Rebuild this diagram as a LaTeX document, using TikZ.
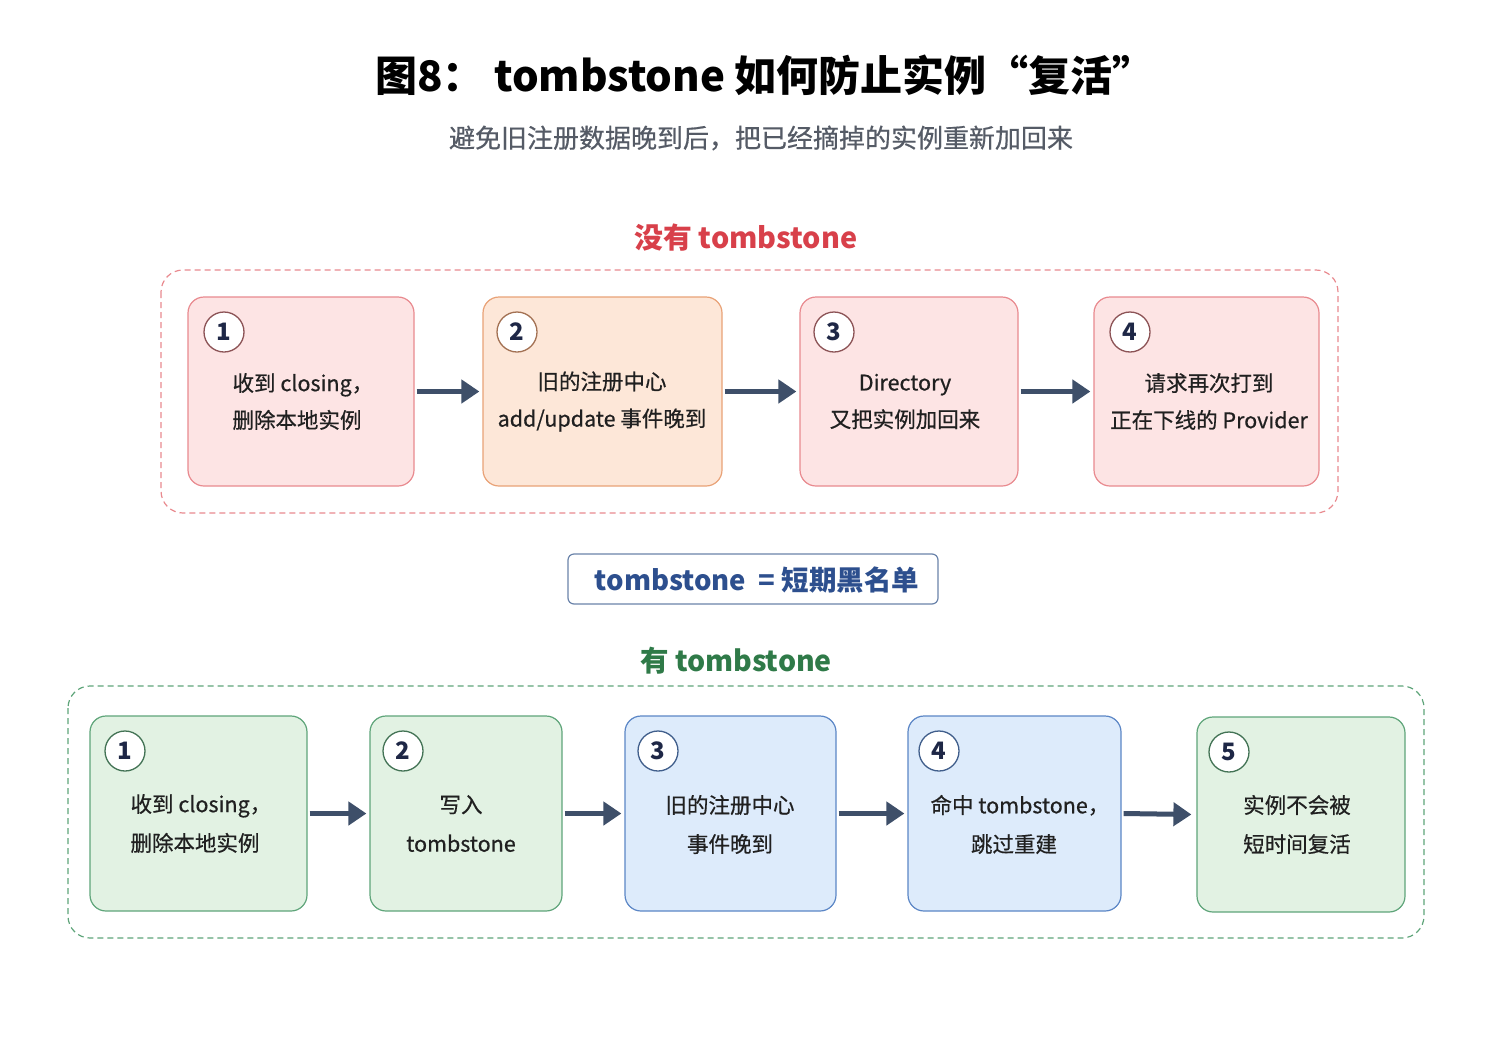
\documentclass[tikz,border=0pt]{standalone}
\usepackage{fontspec}
\setmainfont{Noto Sans CJK SC}
\newfontfamily\medfont[FakeBold=0.6]{Noto Sans CJK SC}
\usetikzlibrary{arrows.meta}
\newcommand{\hcomma}{\makebox[0.45em][l]{，}}
\definecolor{redline}{HTML}{E98A8F}
\definecolor{redfill}{HTML}{FDE4E4}
\definecolor{orline}{HTML}{E9A277}
\definecolor{orfill}{HTML}{FDE7D8}
\definecolor{grline}{HTML}{5FA57A}
\definecolor{grfill}{HTML}{E2F2E3}
\definecolor{blline}{HTML}{5B86C6}
\definecolor{blfill}{HTML}{DDEBFB}
\definecolor{arrowc}{HTML}{3E4F69}
\definecolor{navy}{HTML}{1E2746}
\definecolor{redhead}{HTML}{D8404A}
\definecolor{grhead}{HTML}{2F7A48}
\definecolor{bluetxt}{HTML}{2D4F8E}
\definecolor{txt}{HTML}{202020}
\definecolor{subtxt}{HTML}{555B66}
\tikzset{
  box/.style={draw=#1line, fill=#1fill, line width=1.2pt, rounded corners=16pt, inner sep=0pt},
  numc/.style={circle, draw=#1, fill=white, line width=1.3pt, minimum size=40pt, inner sep=0pt, font=\fontsize{24}{24}\selectfont\bfseries, text=navy},
  btxt/.style={align=center, font=\medfont\fontsize{21.5}{37}\selectfont, text=txt},
  btxtb/.style={align=center, font=\medfont\fontsize{21.5}{39}\selectfont, text=txt},
  flow/.style={-{Triangle[length=18pt,width=23pt]}, line width=5pt, draw=arrowc},
  frame/.style={draw=#1, line width=1.2pt, dash pattern=on 6pt off 4pt, rounded corners=22pt},
}
\begin{document}
\begin{tikzpicture}[x=1pt,y=-1pt]
\useasboundingbox (0,0) rectangle (1491,1055);
\fill[white] (0,0) rectangle (1491,1055);
% titles
\node[font=\fontsize{42}{42}\selectfont\bfseries, text=black] (title) at (765,75) {图8： tombstone 如何防止实例“复活”};
\node[font=\medfont\fontsize{26}{26}\selectfont, text=subtxt] (sub) at (761,138) {避免旧注册数据晚到后，把已经摘掉的实例重新加回来};
% top section
\node[font=\fontsize{28.8}{28.8}\selectfont\bfseries, text=redhead] (h1) at (746,238) {没有 tombstone};
\draw[frame=redline] (161,270) rectangle (1338,513);
\node[box=red, minimum width=226pt, minimum height=189pt] (a1) at (301,391.5) {};
\node[box=or, minimum width=239pt, minimum height=189pt] (a2) at (602.5,391.5) {};
\node[box=red, minimum width=218pt, minimum height=189pt] (a3) at (909,391.5) {};
\node[box=red, minimum width=225pt, minimum height=189pt] (a4) at (1206.5,391.5) {};
\node[numc=redline!60!black] (n1) at (224,332) {1};
\node[numc=orline!70!black] (n2) at (517,332) {2};
\node[numc=redline!60!black] (n3) at (834,332) {3};
\node[numc=redline!60!black] (n4) at (1130,332) {4};
\node[btxt] (t1) at (297,401.5) {收到 closing\hcomma\\删除本地实例};
\node[btxt] (t2) at (602,401.5) {旧的注册中心\\add/update 事件晚到};
\node[btxt] (t3) at (905,401.5) {Directory\\又把实例加回来};
\node[btxt] (t4) at (1209,401.5) {请求再次打到\\正在下线的 Provider};
\draw[flow] ([xshift=2pt]a1.east) -- ([xshift=-3pt]a2.west);
\draw[flow] ([xshift=2pt]a2.east) -- ([xshift=-3pt]a3.west);
\draw[flow] ([xshift=2pt]a3.east) -- ([xshift=-3pt]a4.west);
% middle
\node[draw=blline!60!gray, line width=1.2pt, rounded corners=6pt, minimum width=370pt, minimum height=50pt, fill=white] (mid) at (753,579) {};
\node[font=\fontsize{27.5}{27.5}\selectfont\bfseries, text=bluetxt] (midt) at (757,580) {tombstone \ = 短期黑名单};
% bottom section
\node[font=\fontsize{28.5}{28.5}\selectfont\bfseries, text=grhead] (h2) at (736,661) {有 tombstone};
\draw[frame=grline] (68,686) rectangle (1424,938);
\node[box=gr, minimum width=217pt, minimum height=195pt] (b1) at (198.5,813.5) {};
\node[box=gr, minimum width=192pt, minimum height=195pt] (b2) at (466,813.5) {};
\node[box=bl, minimum width=211pt, minimum height=195pt] (b3) at (730.5,813.5) {};
\node[box=bl, minimum width=213pt, minimum height=195pt] (b4) at (1014.5,813.5) {};
\node[box=gr, minimum width=208pt, minimum height=195pt] (b5) at (1301,814.5) {};
\node[numc=grline!70!black] (m1) at (125,751) {1};
\node[numc=grline!70!black] (m2) at (403,751) {2};
\node[numc=blline!70!black] (m3) at (658,751) {3};
\node[numc=blline!70!black] (m4) at (939,751) {4};
\node[numc=grline!70!black] (m5) at (1229,752) {5};
\node[btxtb] (u1) at (195,823.5) {收到 closing\hcomma\\删除本地实例};
\node[btxtb] (u2) at (461,823.5) {写入\\tombstone};
\node[btxtb] (u3) at (730,824.5) {旧的注册中心\\事件晚到};
\node[btxtb] (u4) at (1014,824.5) {命中 tombstone\hcomma\\跳过重建};
\node[btxtb] (u5) at (1297,824.5) {实例不会被\\短时间复活};
\draw[flow] ([xshift=2pt]b1.east) -- ([xshift=-3pt]b2.west);
\draw[flow] ([xshift=2pt]b2.east) -- ([xshift=-3pt]b3.west);
\draw[flow] ([xshift=2pt]b3.east) -- ([xshift=-3pt]b4.west);
\draw[flow] ([xshift=2pt]b4.east) -- ([xshift=-5pt]b5.west);
\end{tikzpicture}
\end{document}
